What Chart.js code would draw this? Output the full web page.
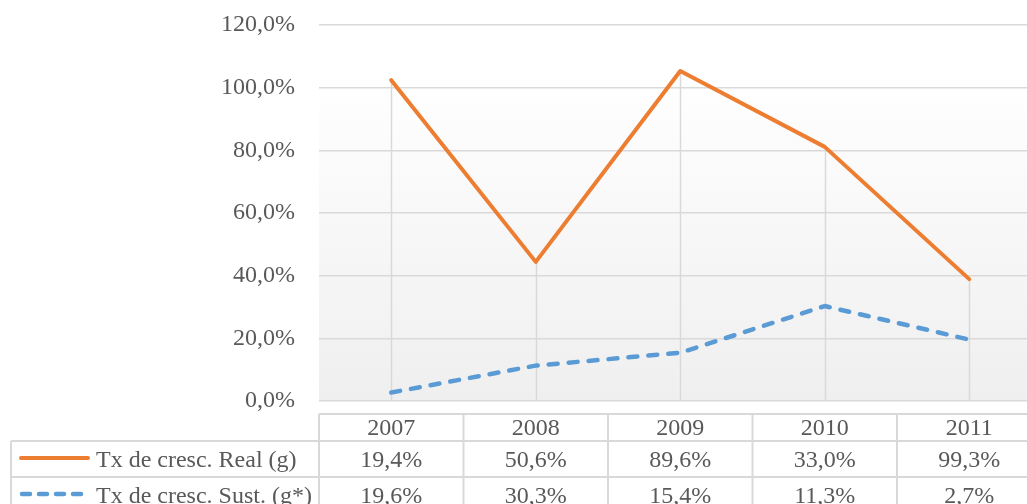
<!DOCTYPE html>
<html>
<head>
<meta charset="utf-8">
<script src="https://cdn.jsdelivr.net/npm/chart.js@4/dist/chart.umd.min.js"></script>
<style>
    body { margin: 0; background: #fff; overflow: hidden; }
    #wrap { width: 1027px; height: 504px; overflow: hidden; }
</style>
</head>
<body>
<div id="wrap"><canvas id="cresc" width="1045" height="504"></canvas></div>
<script>
const years = ['2007', '2008', '2009', '2010', '2011'];
const seriesNames = ['Tx de cresc. Real (g)', 'Tx de cresc. Sust. (g*)'];
const realValues = [102.4, 44.4, 105.3, 81.1, 38.9];
const sustValues = [2.7, 11.3, 15.4, 30.3, 19.6];
// data table rows under the axis
const realTable = [19.4, 50.6, 89.6, 33.0, 99.3];
const sustTable = [19.6, 30.3, 15.4, 11.3, 2.7];

const orange = '#ED7D31';
const blue = '#5B9BD5';
const gridColor = '#d9d9d9';
const textColor = '#595959';
const fontFamily = '"Liberation Serif", "Times New Roman", serif';

function pct(v) {
    return v.toFixed(1).replace('.', ',') + '%';
}

// plot background, drop lines and the data table
const tablePlugin = {
    id: 'tablePlugin',
    beforeDraw: function (chart) {
        let ctx = chart.ctx;
        let area = chart.chartArea;
        let top = area.top + 50;
        let grad = ctx.createLinearGradient(0, top, 0, area.bottom);
        grad.addColorStop(0, '#ffffff');
        grad.addColorStop(1, '#efefef');
        ctx.save();
        ctx.fillStyle = grad;
        ctx.fillRect(area.left, top, chart.width - area.left, area.bottom - top);
        ctx.restore();
    },
    beforeDatasetsDraw: function (chart) {
        let ctx = chart.ctx;
        let x = chart.scales.x;
        let y = chart.scales.y;
        ctx.save();
        ctx.strokeStyle = gridColor;
        ctx.lineWidth = 1.5;
        for (let i = 0; i < years.length; i++) {
            let hi = Math.max(realValues[i], sustValues[i]);
            let px = Math.round(x.getPixelForValue(i)) + 0.5;
            ctx.beginPath();
            ctx.moveTo(px, y.getPixelForValue(hi));
            ctx.lineTo(px, y.getPixelForValue(0));
            ctx.stroke();
        }
        ctx.restore();
    },
    afterDraw: function (chart) {
        let ctx = chart.ctx;
        let x = chart.scales.x;
        let colW = x.width / years.length;
        let left = x.left;
        let right = chart.width;
        let rows = [414, 441, 477, 513];
        let keyLeft = 11;

        ctx.save();
        ctx.strokeStyle = gridColor;
        ctx.lineWidth = 2;
        // horizontal rules
        ctx.beginPath();
        ctx.moveTo(left, rows[0]); ctx.lineTo(right, rows[0]);
        ctx.moveTo(keyLeft, rows[1]); ctx.lineTo(right, rows[1]);
        ctx.moveTo(keyLeft, rows[2]); ctx.lineTo(right, rows[2]);
        // vertical rules
        ctx.moveTo(keyLeft, rows[1]); ctx.lineTo(keyLeft, rows[3]);
        for (let i = 0; i <= years.length; i++) {
            let cx = left + i * colW;
            ctx.moveTo(cx, rows[0]); ctx.lineTo(cx, rows[3]);
        }
        ctx.stroke();

        ctx.font = '24px ' + fontFamily;
        ctx.fillStyle = textColor;
        ctx.textBaseline = 'middle';
        ctx.textAlign = 'center';
        for (let i = 0; i < years.length; i++) {
            let cx = x.getPixelForValue(i);
            ctx.fillText(years[i], cx, 429);
            ctx.fillText(pct(realTable[i]), cx, 461);
            ctx.fillText(pct(sustTable[i]), cx, 497);
        }

        // legend keys
        ctx.textAlign = 'left';
        ctx.fillText(seriesNames[0], 96, 461);
        ctx.fillText(seriesNames[1], 96, 497);
        ctx.lineCap = 'round';
        ctx.lineWidth = 4;
        ctx.strokeStyle = orange;
        ctx.beginPath();
        ctx.moveTo(21, 458); ctx.lineTo(88, 458);
        ctx.stroke();
        ctx.strokeStyle = blue;
        ctx.lineWidth = 4.5;
        ctx.setLineDash([8, 9]);
        ctx.beginPath();
        ctx.moveTo(22, 494); ctx.lineTo(88, 494);
        ctx.stroke();
        ctx.restore();
    }
};

let ctx = document.getElementById('cresc').getContext('2d');
let chart = new Chart(ctx, {
    type: 'line',
    data: {
        labels: years,
        datasets: [{
            label: seriesNames[0],
            data: realValues,
            borderColor: orange,
            borderWidth: 4,
            borderCapStyle: 'round',
            borderJoinStyle: 'round',
            pointRadius: 0,
            tension: 0
        }, {
            label: seriesNames[1],
            data: sustValues,
            borderColor: blue,
            borderWidth: 4.5,
            borderDash: [9, 11],
            borderCapStyle: 'round',
            borderJoinStyle: 'round',
            pointRadius: 0,
            tension: 0
        }]
    },
    options: {
        responsive: false,
        animation: false,
        events: [],
        layout: {
            padding: { top: 25, right: 3.5, bottom: 103, left: 0 }
        },
        scales: {
            x: {
                display: false,
                offset: true
            },
            y: {
                min: 0,
                max: 120,
                border: { display: false },
                grid: {
                    color: gridColor,
                    lineWidth: 1.5,
                    drawTicks: false
                },
                ticks: {
                    stepSize: 20,
                    padding: 24,
                    color: textColor,
                    font: { family: fontFamily, size: 24 },
                    callback: function (value) {
                        return pct(value);
                    }
                },
                afterFit: function (scale) {
                    scale.width = 319;
                    scale.paddingTop = 0;
                    scale.paddingBottom = 0;
                }
            }
        },
        plugins: {
            legend: { display: false },
            tooltip: { enabled: false }
        }
    },
    plugins: [tablePlugin]
});
</script>
</body>
</html>
